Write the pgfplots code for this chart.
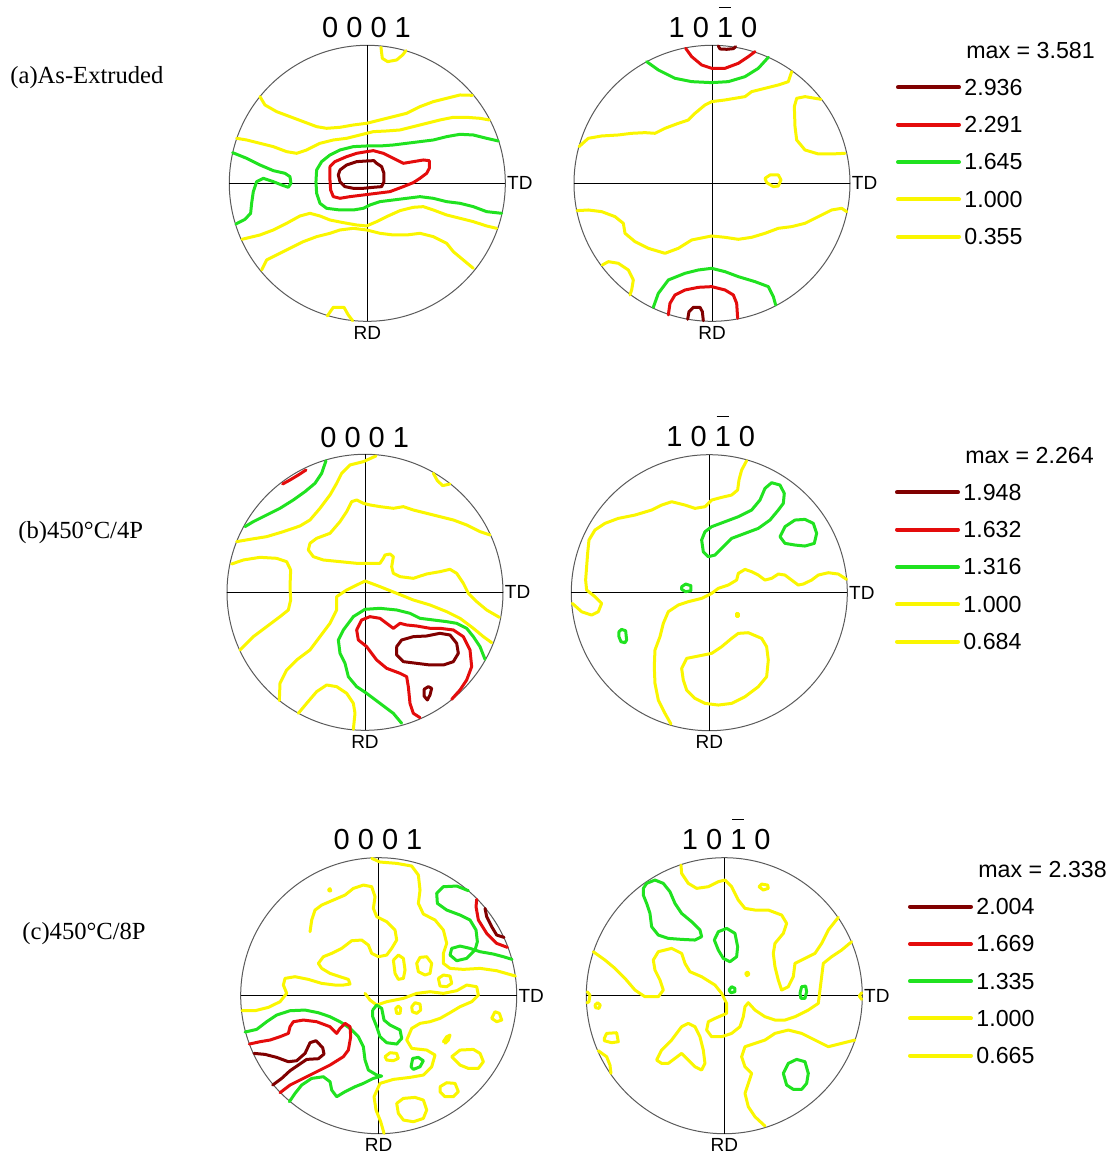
\documentclass[border=0pt]{standalone}
\usepackage{pgfplots}
\pgfplotsset{compat=1.18}
\usepackage{fontspec}
\setmainfont{Liberation Serif}
\newfontfamily\pfont{Liberation Sans}

\definecolor{cDR}{RGB}{128,0,0}
\definecolor{cR}{RGB}{228,12,12}
\definecolor{cG}{RGB}{32,226,32}
\definecolor{cY}{RGB}{250,246,0}
\definecolor{cFrame}{RGB}{90,90,90}

\pgfplotsset{
  pf/.style={hide axis, clip=false, anchor=center,
    x=0.1666667pt, y=0.1666667pt, y dir=reverse},
  cline/.style={line width=1.5pt, line join=round, line cap=round},
  lvDR/.style={cline, cDR},
  lvR/.style={cline, cR},
  lvG/.style={cline, cG},
  lvY/.style={cline, cY},
}
% pole-figure frame: circle plus RD/TD cross, centre (#1,#2), radius #3
\newcommand{\pfframe}[3]{%
  \draw[cFrame, line width=0.5pt] (axis cs:#1,#2) circle [radius=#3];
  \draw[black, line width=0.45pt] (axis cs:#1-#3,#2) -- (axis cs:#1+#3,#2);
  \draw[black, line width=0.45pt] (axis cs:#1,#2-#3) -- (axis cs:#1,#2+#3);
}
\newcommand{\tfont}{\pfont\fontsize{14.5}{16}\selectfont}
\newcommand{\lfont}{\pfont\fontsize{9.5}{11}\selectfont}
\newcommand{\gfont}{\pfont\fontsize{11.6}{13}\selectfont}
\newcommand{\bbar}{\makebox[0pt][l]{\hspace{0.06em}\rule[14.6pt]{0.42em}{0.5pt}}}

\begin{document}
\begin{tikzpicture}
\useasboundingbox (0,0) rectangle (559pt,-579pt);

%% ---------------- (a) 0001 ----------------
\begin{axis}[pf, at={(183.65pt,-91.65pt)}, xmin=28, xmax=856, ymin=136, ymax=964]
\pfframe{442}{550}{414}
\addplot[lvY] coordinates {(483,142) (487,175) (503,185) (530,180) (548,165) (558,152)};
\addplot[lvY] coordinates {(120,290) (135,315) (170,335) (210,350) (250,365) (290,380) (320,385) (360,382) (400,375) (440,370) (480,360) (520,350) (560,340) (600,320) (640,305) (680,295) (720,285) (757,286)};
\addplot[lvY] coordinates {(50,415) (80,420) (120,430) (160,440) (200,455) (230,460) (260,450) (300,430) (340,420) (380,415) (420,405) (460,395) (500,393) (540,390) (580,380) (620,370) (660,360) (700,352) (740,352) (780,355) (808,360)};
\addplot[lvG] coordinates {(38,458) (80,475) (120,495) (160,512) (195,520) (210,530) (213,550) (205,562) (185,555) (160,545) (130,535) (110,545) (100,575) (95,610) (92,640) (75,658) (48,672)};
\addplot[lvG] coordinates {(835,423) (800,415) (760,405) (720,403) (680,410) (640,420) (600,425) (560,430) (520,435) (480,438) (440,438) (400,440) (360,450) (330,465) (305,485) (290,510) (288,545) (290,580) (300,610) (320,625) (360,630) (400,630) (430,625) (450,615) (480,605) (520,600) (560,595) (600,590) (640,595) (680,605) (720,610) (760,620) (800,635) (845,640)};
\addplot[lvR] coordinates {(330,500) (345,485) (380,470) (410,460) (440,455) (460,452) (490,460) (520,475) (550,490) (580,485) (610,480) (628,482) (628,505) (620,520) (600,535) (580,548) (550,560) (510,575) (470,580) (430,585) (390,590) (360,595) (340,590) (332,570) (330,540) (330,500)};
\addplot[lvDR] coordinates {(360,510) (380,495) (410,485) (440,483) (462,482) (470,490) (485,500) (492,520) (492,545) (485,560) (460,562) (430,565) (400,565) (375,560) (360,545) (355,525) (360,510)};
\addplot[lvY] coordinates {(66,718) (120,705) (160,690) (200,670) (240,648) (270,640) (300,648) (330,660) (370,668) (410,675) (440,678) (470,665) (500,650) (540,632) (580,622) (610,620) (640,630) (680,645) (720,655) (760,665) (800,678) (830,685)};
\addplot[lvY] coordinates {(125,810) (140,780) (170,765) (210,745) (250,725) (290,710) (330,700) (360,690) (400,685) (440,690) (480,700) (520,705) (560,705) (600,700) (640,710) (680,730) (700,755) (730,780) (760,805)};
\addplot[lvY] coordinates {(322,948) (340,922) (372,922) (385,945) (398,962)};
\end{axis}

%% ---------------- (a) 10-10 ----------------
\begin{axis}[pf, at={(356pt,-91.65pt)}, xmin=27, xmax=855, ymin=136, ymax=964]
\pfframe{441}{550}{414}
\addplot[lvDR] coordinates {(460,138) (465,147) (485,148) (505,146) (512,140)};
\addplot[lvR] coordinates {(362,145) (380,170) (410,195) (440,205) (480,205) (520,190) (550,170) (570,155)};
\addplot[lvG] coordinates {(245,185) (280,210) (330,235) (380,245) (440,248) (490,245) (540,230) (580,205) (610,172)};
\addplot[lvY] coordinates {(42,440) (70,415) (110,408) (160,405) (200,400) (240,398) (270,400) (300,385) (340,370) (370,360) (390,340) (420,315) (440,305) (480,300) (510,295) (540,290) (560,275) (600,265) (640,255) (670,245) (680,215)};
\addplot[lvY] coordinates {(768,298) (720,290) (695,295) (688,320) (690,380) (695,420) (720,450) (760,462) (800,462) (840,460)};
\addplot[lvY] coordinates {(600,535) (615,525) (640,525) (648,540) (640,558) (625,560) (605,548) (600,535)};
\addplot[lvY] coordinates {(36,632) (70,630) (110,635) (150,650) (175,670) (180,700) (210,725) (250,745) (300,760) (340,745) (380,720) (440,708) (480,712) (520,718) (560,712) (600,700) (640,685) (680,680) (720,670) (760,650) (800,630) (830,625) (845,635)};
\addplot[lvY] coordinates {(112,795) (130,785) (160,790) (190,810) (205,840) (200,870) (195,885)};
\addplot[lvG] coordinates {(265,922) (280,880) (310,840) (360,820) (400,810) (440,805) (480,815) (520,830) (570,845) (610,860) (625,890) (632,915)};
\addplot[lvR] coordinates {(310,945) (315,910) (330,885) (360,870) (400,862) (440,860) (480,870) (505,885) (515,910) (518,955)};
\addplot[lvDR] coordinates {(368,958) (372,935) (385,922) (405,922) (412,935) (415,962)};
\end{axis}

%% ---------------- (b) 0001 ----------------
\begin{axis}[pf, at={(182.5pt,-296.15pt)}, xmin=21, xmax=849, ymin=103, ymax=931]
\pfframe{435}{517}{414}
\addplot[lvR] coordinates {(188,192) (210,180) (235,165) (258,150)};
\addplot[lvG] coordinates {(75,320) (100,305) (140,285) (180,265) (220,240) (255,215) (285,190) (305,160) (318,122)};
\addplot[lvY] coordinates {(50,365) (90,358) (140,350) (190,335) (240,318) (270,300) (300,265) (330,225) (350,190) (365,160) (390,135) (430,125) (468,108)};
\addplot[lvY] coordinates {(640,160) (652,182) (668,197) (690,192)};
\addplot[lvY] coordinates {(35,432) (70,420) (120,412) (170,415) (200,425) (212,450) (210,500) (212,540) (205,570) (180,590) (140,620) (100,650) (80,670) (60,690)};
\addplot[lvY] coordinates {(810,345) (780,335) (740,315) (700,300) (660,290) (620,280) (580,270) (550,260) (520,265) (480,260) (450,255) (430,250) (410,240) (395,245) (380,275) (360,305) (330,340) (290,355) (270,370) (265,390) (280,410) (310,420) (360,425) (410,430) (440,430) (480,430) (490,415) (495,405) (510,402) (520,410) (515,440) (520,460) (540,470) (580,475) (620,462) (660,455) (690,448) (710,460) (730,490) (745,520) (770,545) (800,570) (838,592)};
\addplot[lvY] coordinates {(178,842) (180,790) (200,750) (230,720) (270,690) (300,650) (330,610) (350,570) (350,530) (380,510) (435,483) (480,500) (530,520) (580,540) (630,555) (680,575) (720,595) (760,625) (790,650) (815,668)};
\addplot[lvY] coordinates {(235,880) (260,850) (290,815) (320,795) (350,800) (380,820) (400,850) (405,880) (400,928)};
\addplot[lvG] coordinates {(545,910) (520,880) (480,850) (440,820) (410,800) (385,770) (375,730) (360,700) (355,660) (370,630) (400,590) (435,568) (480,565) (530,570) (570,580) (600,595) (640,600) (680,605) (710,610) (740,625) (760,650) (780,680) (795,718)};
\addplot[lvR] coordinates {(600,893) (580,880) (570,850) (565,800) (560,770) (540,760) (500,745) (470,720) (440,680) (415,660) (410,630) (425,600) (450,590) (480,595) (500,610) (520,625) (540,610) (560,615) (590,618) (630,625) (660,625) (700,630) (730,650) (750,690) (755,740) (740,780) (720,810) (695,838)};
\addplot[lvDR] coordinates {(530,680) (545,660) (580,650) (620,648) (660,640) (690,645) (710,670) (715,700) (700,725) (670,735) (630,735) (590,730) (550,725) (530,705) (530,680)};
\addplot[lvDR] coordinates {(612,808) (625,800) (635,805) (630,825) (622,840) (612,828) (612,808)};
\end{axis}

%% ---------------- (b) 10-10 ----------------
\begin{axis}[pf, at={(354.65pt,-296.35pt)}, xmin=19, xmax=847, ymin=104, ymax=932]
\pfframe{433}{518}{414}
\addplot[lvY] coordinates {(545,122) (530,150) (522,180) (518,210) (500,225) (470,232) (440,240) (420,260) (390,265) (360,255) (320,245) (290,255) (260,270) (210,285) (160,295) (120,310) (90,330) (72,360) (68,400) (65,440) (62,480) (65,510) (90,530) (110,550) (100,575) (80,585) (50,575) (22,550)};
\addplot[lvG] coordinates {(420,335) (440,320) (480,305) (520,290) (560,270) (585,240) (600,205) (620,188) (645,195) (658,220) (655,250) (640,270) (615,300) (580,325) (540,340) (500,355) (470,385) (450,405) (430,410) (415,395) (410,360) (420,335)};
\addplot[lvG] coordinates {(645,350) (660,320) (690,300) (720,298) (745,310) (755,340) (748,370) (720,378) (690,375) (660,370) (645,350)};
\addplot[lvG] coordinates {(350,500) (362,492) (378,497) (378,512) (362,515) (350,508) (350,500)};
\addplot[lvY] coordinates {(845,478) (820,462) (790,458) (760,465) (740,480) (715,492) (700,495) (680,480) (660,465) (640,462) (620,475) (600,480) (580,465) (560,455) (540,448) (520,460) (515,480) (490,495) (460,505) (440,520) (410,535) (370,545) (340,555) (310,575) (295,610) (285,650) (270,690) (268,740) (270,790) (280,840) (300,880) (318,912)};
\addplot[lvY] coordinates {(516,580) (522,580) (522,588) (516,588) (516,580)};
\addplot[lvG] coordinates {(162,635) (170,628) (182,632) (185,660) (180,668) (168,665) (162,650) (162,635)};
\addplot[lvY] coordinates {(350,745) (365,715) (400,708) (440,700) (470,680) (500,655) (520,640) (550,638) (590,655) (605,680) (610,720) (605,770) (580,800) (540,830) (500,850) (460,855) (420,850) (390,835) (365,810) (355,780) (350,745)};
\end{axis}

%% ---------------- (c) 0001 ----------------
\begin{axis}[pf, at={(189.35pt,-497.85pt)}, xmin=32, xmax=860, ymin=113, ymax=941]
\pfframe{446}{527}{414}
\addplot[lvY] coordinates {(296,208) (300,206) (302,212) (297,213) (296,208)};
\addplot[lvY] coordinates {(425,115) (450,126) (500,130) (545,138) (565,165) (570,210) (565,250) (580,282) (615,300) (640,330) (650,370) (640,400) (640,430) (660,445) (700,448) (750,445) (800,452) (856,468)};
\addplot[lvY] coordinates {(240,335) (245,300) (255,270) (275,255) (310,240) (345,225) (370,205) (400,195) (425,200) (435,230) (430,265) (440,290) (470,305) (495,330) (500,360) (485,385) (470,405) (445,410) (425,400) (415,375) (395,360) (365,362) (335,385) (305,400) (280,410) (265,430) (275,445) (300,460) (330,470) (355,478) (360,492) (340,495) (315,495) (275,490) (235,478) (195,470) (165,475) (160,495) (170,520) (150,545) (115,562) (75,572) (36,572)};
\addplot[lvG] coordinates {(715,212) (680,198) (640,200) (620,220) (622,250) (650,270) (690,285) (720,300) (738,330) (742,365) (735,390) (710,415) (680,422) (660,405) (665,385) (690,378) (720,385) (750,395) (790,402) (820,410) (846,418)};
\addplot[lvR] coordinates {(740,238) (738,260) (745,300) (770,340) (800,370) (832,382)};
\addplot[lvDR] coordinates {(765,265) (770,290) (785,320) (800,345) (822,352)};
\addplot[lvY] coordinates {(560,430) (570,412) (590,410) (605,430) (600,460) (585,465) (565,455) (560,430)};
\addplot[lvY] coordinates {(490,420) (505,405) (520,415) (525,450) (520,475) (505,478) (495,460) (490,420)};
\addplot[lvY] coordinates {(625,475) (640,465) (660,468) (665,490) (650,500) (630,498) (625,475)};
\addplot[lvY] coordinates {(497,565) (505,558) (512,565) (510,580) (500,580) (497,565)};
\addplot[lvY] coordinates {(545,560) (555,548) (570,552) (572,570) (560,580) (547,575) (545,560)};
\addplot[lvY] coordinates {(785,595) (795,575) (808,580) (815,600) (800,605) (785,595)};
\addplot[lvY] coordinates {(640,665) (650,650) (660,645) (655,660) (645,670)};
\addplot[lvY] coordinates {(465,710) (480,698) (500,700) (505,715) (490,722) (470,720) (465,710)};
\addplot[lvY] coordinates {(665,710) (690,690) (730,688) (750,700) (760,725) (745,745) (715,745) (690,735) (665,710)};
\addplot[lvY] coordinates {(630,800) (650,788) (675,790) (685,815) (670,830) (645,830) (630,815) (630,800)};
\addplot[lvY] coordinates {(500,850) (520,835) (555,832) (580,840) (590,870) (580,895) (550,905) (520,900) (505,880) (500,850)};
\addplot[lvY] coordinates {(405,520) (420,540) (440,555) (470,545) (520,535) (560,520) (600,515) (640,520) (680,512) (710,495) (740,500) (745,525) (725,545) (690,560) (660,578) (630,595) (600,605) (570,610) (545,625) (530,660) (545,685) (590,690) (615,705) (605,740) (580,765) (540,772) (490,778) (450,790) (432,830) (438,870) (452,905) (462,940)};
\addplot[lvG] coordinates {(45,636) (80,628) (110,605) (140,585) (180,572) (225,570) (265,578) (300,590) (330,605) (360,625) (385,650) (400,680) (405,720) (415,750) (440,765) (455,768) (430,775) (400,790) (375,800) (345,815) (320,830) (305,810) (300,785) (280,770) (245,775) (215,795) (195,820) (178,845)};
\addplot[lvR] coordinates {(58,672) (90,665) (120,660) (150,650) (175,640) (180,620) (190,605) (220,600) (260,605) (300,620) (320,640) (330,625) (345,610) (360,620) (362,650) (355,690) (340,710) (300,735) (260,755) (220,775) (180,795) (150,818)};
\addplot[lvDR] coordinates {(72,700) (105,703) (140,712) (175,725) (200,722) (225,700) (240,668) (258,662) (278,683) (282,702) (265,716) (230,718) (205,735) (180,752) (155,775) (128,795)};
\addplot[lvG] coordinates {(428,570) (440,555) (455,565) (462,600) (480,615) (510,630) (515,655) (500,672) (470,668) (450,650) (440,620) (428,590) (428,570)};
\addplot[lvG] coordinates {(543,740) (548,715) (565,712) (580,722) (570,740) (550,748) (543,740)};
\end{axis}

%% ---------------- (c) 10-10 ----------------
\begin{axis}[pf, at={(362.15pt,-497.85pt)}, xmin=34, xmax=862, ymin=113, ymax=941]
\pfframe{448}{527}{414}
\addplot[lvG] coordinates {(205,205) (215,190) (240,180) (265,190) (285,215) (300,250) (320,280) (350,305) (375,330) (380,350) (360,360) (320,358) (280,355) (250,345) (230,320) (225,280) (215,250) (205,225) (205,205)};
\addplot[lvG] coordinates {(418,360) (430,335) (455,325) (480,340) (488,380) (485,410) (465,425) (445,415) (430,390) (418,360)};
\addplot[lvG] coordinates {(462,510) (470,500) (480,505) (480,515) (468,518) (462,510)};
\addplot[lvG] coordinates {(675,520) (680,500) (692,498) (695,515) (690,535) (678,535) (675,520)};
\addplot[lvG] coordinates {(625,760) (640,730) (665,718) (690,725) (700,760) (695,790) (680,808) (655,808) (635,795) (625,760)};
\addplot[lvY] coordinates {(512,460) (518,456) (522,462) (516,467) (512,460)};
\addplot[lvY] coordinates {(552,200) (560,192) (578,195) (580,205) (565,210) (552,200)};
\addplot[lvY] coordinates {(318,135) (320,160) (340,190) (365,205) (400,200) (430,185) (450,180) (470,200) (490,240) (510,265) (540,270) (580,270) (620,285) (635,310) (625,340) (600,370) (595,400) (600,440) (610,480) (620,510) (640,500) (655,470) (660,430) (680,420) (720,400) (740,370) (760,330) (790,292)};
\addplot[lvY] coordinates {(55,395) (90,420) (120,445) (150,475) (180,510) (210,530) (250,530) (265,510) (255,480) (240,450) (235,420) (250,395) (290,385) (320,400) (330,430) (345,455) (380,470) (420,495) (440,520) (455,550) (455,580) (420,595) (400,605) (395,630) (410,650) (440,650) (470,640) (495,620) (505,590) (510,560) (520,548) (540,570) (570,590) (600,600) (630,600) (660,590) (700,570) (730,550) (735,510) (740,470) (745,430) (770,410) (800,390) (830,365)};
\addplot[lvY] coordinates {(840,660) (800,670) (760,680) (720,660) (680,640) (640,630) (600,640) (570,660) (540,670) (510,680) (500,710) (510,740) (530,760) (520,790) (510,820) (520,860) (540,890) (570,918)};
\addplot[lvY] coordinates {(245,720) (260,690) (290,660) (320,620) (340,610) (360,620) (375,650) (385,690) (390,730) (380,750) (360,740) (340,720) (320,700) (300,715) (280,730) (260,730) (245,720)};
\addplot[lvY] coordinates {(88,655) (95,640) (125,638) (130,665) (110,668) (88,662) (88,655)};
\addplot[lvY] coordinates {(70,692) (95,710) (105,735) (108,760)};
\addplot[lvY] coordinates {(37,515) (45,525) (42,545) (36,548)};
\addplot[lvY] coordinates {(60,555) (68,548) (76,555) (72,565) (62,563) (60,555)};
\addplot[lvY] coordinates {(860,518) (853,528) (860,538)};
\end{axis}

%% ---------------- labels and legends ----------------
\begin{scope}[x=0.5pt, y=-0.5pt]
% titles
\node[font=\tfont, anchor=base, inner sep=0] at (366.5,37) {0 0 0 1};
\node[font=\tfont, anchor=base, inner sep=0] at (713,37) {1 0 \bbar1 0};
\node[font=\tfont, anchor=base, inner sep=0] at (364.7,447) {0 0 0 1};
\node[font=\tfont, anchor=base, inner sep=0] at (710.8,446) {1 0 \bbar1 0};
\node[font=\tfont, anchor=base, inner sep=0] at (378,849) {0 0 0 1};
\node[font=\tfont, anchor=base, inner sep=0] at (726.3,849) {1 0 \bbar1 0};
% axis directions
\foreach \cx/\cy/\r in {367.3/183.3/138, 712/183.3/138, 365/592.3/138, 709.3/592.7/138, 378.7/995.7/138, 724.3/995.7/138}{
  \node[font=\lfont, anchor=west, inner sep=0] at (\cx+\r+1.5,\cy) {TD};
  \node[font=\lfont, anchor=north, inner sep=0] at (\cx,\cy+\r+4.5) {RD};
}
% sample labels
\node[font=\fontsize{12.3}{14}\selectfont, anchor=base west, inner sep=0] at (10,83) {(a)As-Extruded};
\node[font=\fontsize{12.3}{14}\selectfont, anchor=base west, inner sep=0] at (18,538) {(b)450\textdegree C/4P};
\node[font=\fontsize{12.3}{14}\selectfont, anchor=base west, inner sep=0] at (22,939) {(c)450\textdegree C/8P};
% contour-level keys
\foreach \lx/\ly/\mx/\va/\vb/\vc/\vd/\ve/\dy in {
   898/87.3/3.581/2.936/2.291/1.645/1.000/0.355/37.35,
   897/492.3/2.264/1.948/1.632/1.316/1.000/0.684/37.35,
   910/906.7/2.338/2.004/1.669/1.335/1.000/0.665/37.25}{
  \node[font=\gfont, anchor=base west, inner sep=0] at (\lx+68,\ly-29) {max = \mx};
  \draw[cDR, line width=2pt, line cap=round] (\lx,\ly) -- (\lx+61,\ly);
  \draw[cR,  line width=2pt, line cap=round] (\lx,\ly+\dy) -- (\lx+61,\ly+\dy);
  \draw[cG,  line width=2pt, line cap=round] (\lx,\ly+2*\dy) -- (\lx+61,\ly+2*\dy);
  \draw[cY,  line width=2pt, line cap=round] (\lx,\ly+3*\dy) -- (\lx+61,\ly+3*\dy);
  \draw[cY,  line width=2pt, line cap=round] (\lx,\ly+4*\dy) -- (\lx+61,\ly+4*\dy);
  \node[font=\gfont, anchor=west, inner sep=0] at (\lx+66,\ly) {\va};
  \node[font=\gfont, anchor=west, inner sep=0] at (\lx+66,\ly+\dy) {\vb};
  \node[font=\gfont, anchor=west, inner sep=0] at (\lx+66,\ly+2*\dy) {\vc};
  \node[font=\gfont, anchor=west, inner sep=0] at (\lx+66,\ly+3*\dy) {\vd};
  \node[font=\gfont, anchor=west, inner sep=0] at (\lx+66,\ly+4*\dy) {\ve};
}
\end{scope}
\end{tikzpicture}
\end{document}
